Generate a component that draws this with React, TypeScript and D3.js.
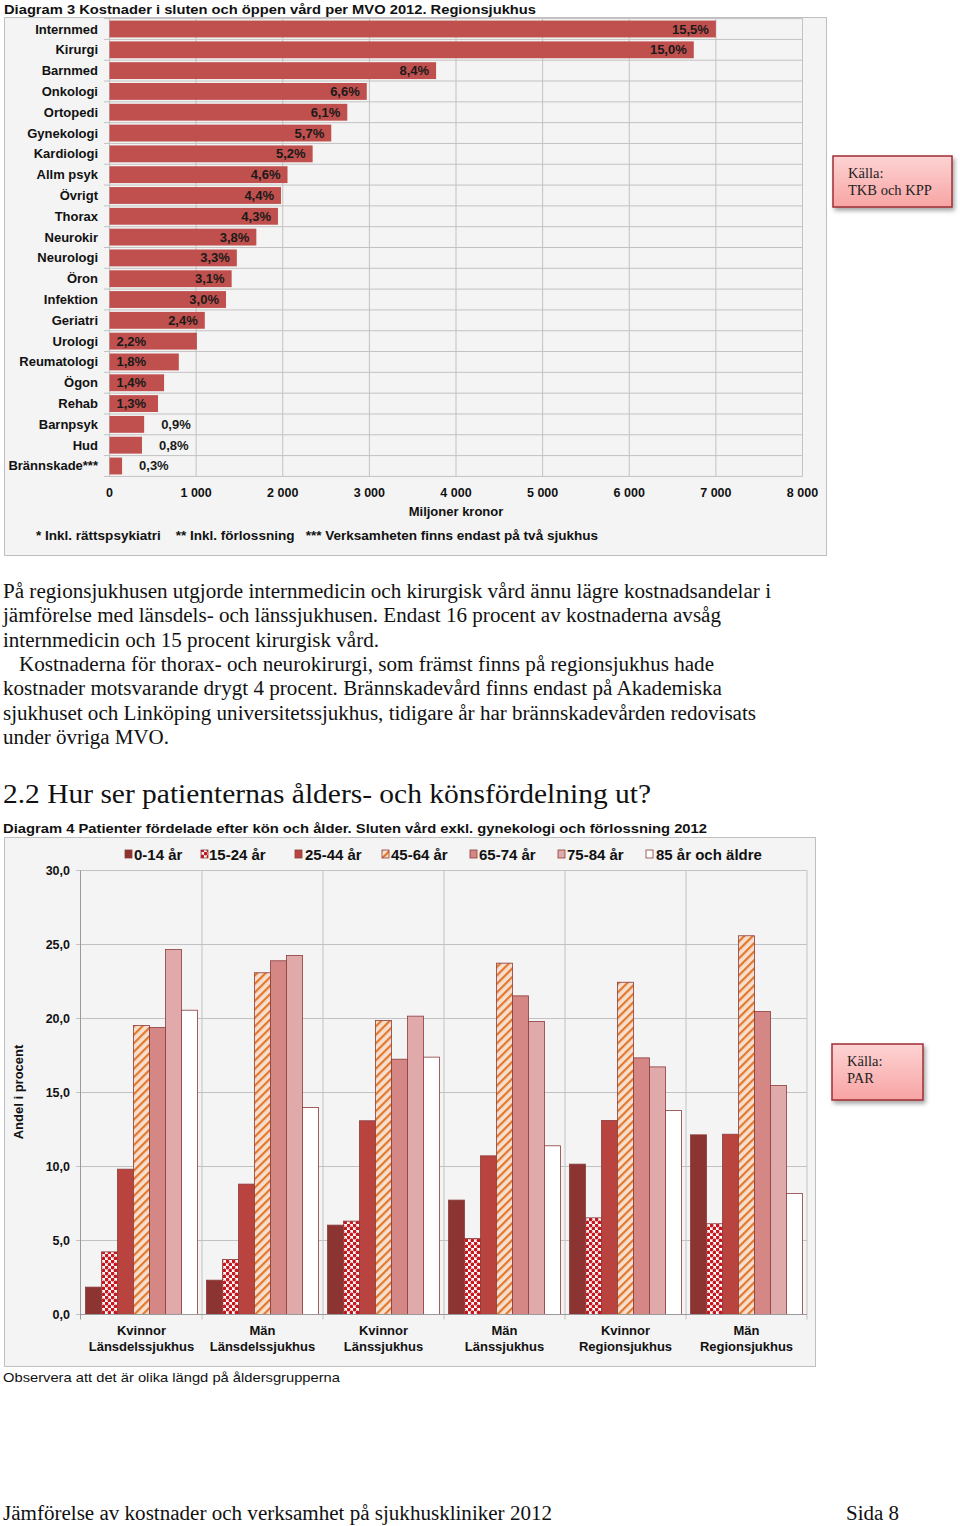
import React from "react";
import * as d3 from "d3";

// ---------- Diagram 3 data ----------
const categories = ["Internmed","Kirurgi","Barnmed","Onkologi","Ortopedi","Gynekologi","Kardiologi","Allm psyk","Övrigt","Thorax","Neurokir","Neurologi","Öron","Infektion","Geriatri","Urologi","Reumatologi","Ögon","Rehab","Barnpsyk","Hud","Brännskade***"];
const costMkr = [7000,6745,3770,2970,2745,2560,2345,2055,1980,1945,1695,1470,1410,1345,1100,1009,800,630,560,400,375,145];
const sharePct = [15.5,15.0,8.4,6.6,6.1,5.7,5.2,4.6,4.4,4.3,3.8,3.3,3.1,3.0,2.4,2.2,1.8,1.4,1.3,0.9,0.8,0.3];
const costTicks = [0,1000,2000,3000,4000,5000,6000,7000,8000];

// ---------- Diagram 4 data ----------
const sexes = ["Kvinnor","Män","Kvinnor","Män","Kvinnor","Män"];
const hospitalTypes = ["Länsdelssjukhus","Länsdelssjukhus","Länssjukhus","Länssjukhus","Regionsjukhus","Regionsjukhus"];
const ageGroups = ["0-14 år","15-24 år","25-44 år","45-64 år","65-74 år","75-84 år","85 år och äldre"];
const age0_14 = [1.85,2.32,6.04,7.73,10.16,12.14];
const age15_24 = [4.23,3.72,6.31,5.14,6.53,6.13];
const age25_44 = [9.82,8.81,13.09,10.72,13.11,12.18];
const age45_64 = [19.53,23.09,19.86,23.74,22.45,25.59];
const age65_74 = [19.39,23.9,17.25,21.53,17.34,20.47];
const age75_84 = [24.66,24.26,20.16,19.8,16.73,15.47];
const age85plus = [20.56,13.99,17.39,11.4,13.78,8.18];
const shareTicks = [0,5,10,15,20,25,30];

const ageSeries = [age0_14, age15_24, age25_44, age45_64, age65_74, age75_84, age85plus];
const ageFills = ["#8c3431","url(#dots)","#b9433f","url(#stripes)","#d48784","#dfaaa9","#ffffff"];

const paragraph = [
  { text: "På regionsjukhusen utgjorde internmedicin och kirurgisk vård ännu lägre kostnadsandelar i", x: 3, w: 768 },
  { text: "jämförelse med länsdels- och länssjukhusen. Endast 16 procent av kostnaderna avsåg", x: 3, w: 718 },
  { text: "internmedicin och 15 procent kirurgisk vård.", x: 3, w: 376 },
  { text: "Kostnaderna för thorax- och neurokirurgi, som främst finns på regionsjukhus hade", x: 19, w: 695 },
  { text: "kostnader motsvarande drygt 4 procent. Brännskadevård finns endast på Akademiska", x: 3, w: 719 },
  { text: "sjukhuset och Linköping universitetssjukhus, tidigare år har brännskadevården redovisats", x: 3, w: 753 },
  { text: "under övriga MVO.", x: 3, w: 166 },
];

const locale = d3.formatLocale({ decimal: ",", thousands: "\u00a0", grouping: [3], currency: ["", ""] });
const fmtThousands = locale.format(",");
const fmtOne = locale.format(".1f");

const SANS = "'Liberation Sans', Arial, Helvetica, sans-serif";
const SERIF = "'Liberation Serif', 'Times New Roman', serif";

function SourceBox({ x, y, w, h, lines }: { x: number; y: number; w: number; h: number; lines: string[] }) {
  return (
    <g>
      <rect x={x} y={y} width={w} height={h} fill="url(#pinkGrad)" stroke="#9e2f35" strokeWidth={1.5} filter="url(#shadow)" />
      {lines.map((l, i) => (
        <text key={i} x={x + 15} y={y + 22 + i * 17} fontFamily={SERIF} fontSize={14.5} fill="#222">{l}</text>
      ))}
    </g>
  );
}

export default function App() {
  // ---- Diagram 3 scales ----
  const x = d3.scaleLinear().domain([0, 8000]).range([109.5, 802.5]);
  const y = d3.scaleBand<string>().domain(categories).range([18.6, 476.4]).paddingInner(0.19).paddingOuter(0.095);
  const step = y.step();
  const rowLines = d3.range(categories.length + 1).map((i) => 18.6 + i * step);

  // ---- Diagram 4 scales ----
  const groupKeys = sexes.map((_, i) => String(i));
  const x0 = d3.scaleBand<string>().domain(groupKeys).range([81, 807]);
  const x1 = d3.scaleBand<string>().domain(ageGroups).range([0, x0.bandwidth()]).paddingOuter(0.28);
  const y2 = d3.scaleLinear().domain([0, 30]).range([1314.5, 870.5]);

  const legendSq = [125, 201, 295, 382, 470, 558, 646];
  const legendTx = [134, 209, 305, 391, 479, 567, 656];

  return (
    <svg width={960} height={1526} style={{ position: "absolute", left: 0, top: 0 }} xmlns="http://www.w3.org/2000/svg">
      <defs>
        <linearGradient id="pinkGrad" x1="0" y1="0" x2="0" y2="1">
          <stop offset="0" stopColor="#fdd3d3" />
          <stop offset="1" stopColor="#f8a4a4" />
        </linearGradient>
        <filter id="shadow" x="-20%" y="-20%" width="140%" height="160%">
          <feDropShadow dx="2" dy="3" stdDeviation="2" floodColor="#000" floodOpacity="0.35" />
        </filter>
        <pattern id="dots" width="6" height="6" patternUnits="userSpaceOnUse">
          <rect width="6" height="6" fill="#ffffff" />
          <circle cx="1.5" cy="1.5" r="1.9" fill="#c8161e" />
          <circle cx="4.5" cy="4.5" r="1.9" fill="#c8161e" />
        </pattern>
        <pattern id="stripes" width="6" height="6" patternUnits="userSpaceOnUse" patternTransform="rotate(45)">
          <rect width="6" height="6" fill="#f7dfcf" />
          <rect x="0" y="0" width="2.2" height="6" fill="#e2782c" />
        </pattern>
      </defs>

      <rect x={0} y={0} width={960} height={1526} fill="#ffffff" />

      {/* ================= Diagram 3 ================= */}
      <text x={4} y={14} fontFamily={SANS} fontWeight="bold" fontSize={13.5} textLength={532} lengthAdjust="spacingAndGlyphs" fill="#111">
        Diagram 3 Kostnader i sluten och öppen vård per MVO 2012. Regionsjukhus
      </text>
      <rect x={4.5} y={17.5} width={822} height={538} fill="#f4f4f4" stroke="#bfbfbf" strokeWidth={1} />

      {costTicks.map((t) => (
        <line key={"vg" + t} x1={x(t)} x2={x(t)} y1={18.6} y2={476.4} stroke="#c2c2c2" strokeWidth={1} />
      ))}
      {rowLines.map((ly, i) => (
        <line key={"hg" + i} x1={104} x2={802.5} y1={ly} y2={ly} stroke="#c2c2c2" strokeWidth={1} />
      ))}

      {categories.map((c, i) => {
        const v = costMkr[i];
        const by = y(c)!;
        const cy = by + y.bandwidth() / 2;
        const label = fmtOne(sharePct[i]) + "%";
        let lx: number, anchor: "start" | "end";
        if (v >= 1050) { lx = x(v) - 7; anchor = "end"; }
        else if (v >= 500) { lx = x(0) + 7; anchor = "start"; }
        else { lx = x(v) + 17; anchor = "start"; }
        return (
          <g key={c}>
            <text x={98} y={cy + 4.5} textAnchor="end" fontFamily={SANS} fontWeight="bold" fontSize={13} fill="#111">{c}</text>
            <rect x={x(0)} y={by} width={x(v) - x(0)} height={y.bandwidth()} fill="#c0504d" />
            <text x={lx} y={cy + 4.5} textAnchor={anchor} fontFamily={SANS} fontWeight="bold" fontSize={13} fill="#1a1a1a">{label}</text>
          </g>
        );
      })}

      {costTicks.map((t) => (
        <text key={"tl" + t} x={x(t)} y={497} textAnchor="middle" fontFamily={SANS} fontWeight="bold" fontSize={12.5} fill="#111">{fmtThousands(t)}</text>
      ))}
      <text x={456} y={516} textAnchor="middle" fontFamily={SANS} fontWeight="bold" fontSize={13} fill="#111">Miljoner kronor</text>
      <text x={36} y={540} fontFamily={SANS} fontWeight="bold" fontSize={13} textLength={562} lengthAdjust="spacingAndGlyphs" fill="#111" style={{ whiteSpace: "pre" }}>
        {"* Inkl. rättspsykiatri    ** Inkl. förlossning   *** Verksamheten finns endast på två sjukhus"}
      </text>

      <SourceBox x={833} y={156} w={119} h={51} lines={["Källa:", "TKB och KPP"]} />

      {/* ================= Body text ================= */}
      {paragraph.map((p, i) => (
        <text key={"p" + i} x={p.x} y={598 + i * 24.3} fontFamily={SERIF} fontSize={20} textLength={p.w} lengthAdjust="spacingAndGlyphs" fill="#111">{p.text}</text>
      ))}
      <text x={3} y={803} fontFamily={SERIF} fontSize={28} textLength={648} lengthAdjust="spacingAndGlyphs" fill="#111">
        2.2 Hur ser patienternas ålders- och könsfördelning ut?
      </text>

      {/* ================= Diagram 4 ================= */}
      <text x={3} y={833} fontFamily={SANS} fontWeight="bold" fontSize={13} textLength={704} lengthAdjust="spacingAndGlyphs" fill="#111">
        Diagram 4 Patienter fördelade efter kön och ålder. Sluten vård exkl. gynekologi och förlossning 2012
      </text>
      <rect x={4.5} y={837.5} width={811} height={529} fill="#f4f4f4" stroke="#bfbfbf" strokeWidth={1} />

      {/* legend */}
      {ageGroups.map((a, i) => (
        <g key={"lg" + i}>
          <rect x={legendSq[i]} y={850} width={7} height={8} fill={ageFills[i]} stroke="#8c3b3b" strokeWidth={0.8} />
          <text x={legendTx[i]} y={860} fontFamily={SANS} fontWeight="bold" fontSize={15} fill="#111">{a}</text>
        </g>
      ))}

      {/* gridlines */}
      {shareTicks.map((t) => (
        <line key={"g2" + t} x1={76} x2={807} y1={y2(t)} y2={y2(t)} stroke="#c2c2c2" strokeWidth={1} />
      ))}
      {groupKeys.map((g) => (
        <line key={"vg2" + g} x1={x0(g)! + x0.bandwidth()} x2={x0(g)! + x0.bandwidth()} y1={y2(30)} y2={y2(0) + 5} stroke="#c2c2c2" strokeWidth={1} />
      ))}
      <line x1={80.5} x2={80.5} y1={y2(30)} y2={y2(0)} stroke="#9a9a9a" strokeWidth={1} />
      <line x1={80.5} x2={80.5} y1={y2(0)} y2={y2(0) + 5} stroke="#9a9a9a" strokeWidth={1} />

      {/* bars */}
      {groupKeys.map((g, gi) => (
        <g key={"grp" + g} transform={`translate(${x0(g)},0)`}>
          {ageGroups.map((a, ai) => {
            const v = ageSeries[ai][gi];
            return (
              <rect key={a} x={x1(a)!} y={y2(v)} width={x1.bandwidth()} height={y2(0) - y2(v)} fill={ageFills[ai]} stroke="#8c3b3b" strokeWidth={0.8} />
            );
          })}
        </g>
      ))}
      <line x1={80} x2={807} y1={y2(0)} y2={y2(0)} stroke="#9a9a9a" strokeWidth={1} />

      {/* y ticks */}
      {shareTicks.map((t) => (
        <text key={"yt" + t} x={70} y={y2(t) + 4.5} textAnchor="end" fontFamily={SANS} fontWeight="bold" fontSize={12.5} fill="#111">{fmtOne(t)}</text>
      ))}
      <text transform="translate(23,1092) rotate(-90)" textAnchor="middle" fontFamily={SANS} fontWeight="bold" fontSize={13} fill="#111">Andel i procent</text>

      {/* x labels */}
      {groupKeys.map((g, gi) => {
        const cx = x0(g)! + x0.bandwidth() / 2;
        return (
          <g key={"xl" + g}>
            <text x={cx} y={1335} textAnchor="middle" fontFamily={SANS} fontWeight="bold" fontSize={13} fill="#111">{sexes[gi]}</text>
            <text x={cx} y={1351} textAnchor="middle" fontFamily={SANS} fontWeight="bold" fontSize={13} fill="#111">{hospitalTypes[gi]}</text>
          </g>
        );
      })}

      <text x={3} y={1382} fontFamily={SANS} fontSize={13} textLength={337} lengthAdjust="spacingAndGlyphs" fill="#111">
        Observera att det är olika längd på åldersgrupperna
      </text>

      <SourceBox x={832} y={1044} w={91} h={56} lines={["Källa:", "PAR"]} />

      {/* footer */}
      <text x={3} y={1520} fontFamily={SERIF} fontSize={20} textLength={549} lengthAdjust="spacingAndGlyphs" fill="#111">
        Jämförelse av kostnader och verksamhet på sjukhuskliniker 2012
      </text>
      <text x={846} y={1520} fontFamily={SERIF} fontSize={20} textLength={53} lengthAdjust="spacingAndGlyphs" fill="#111">Sida 8</text>
    </svg>
  );
}
